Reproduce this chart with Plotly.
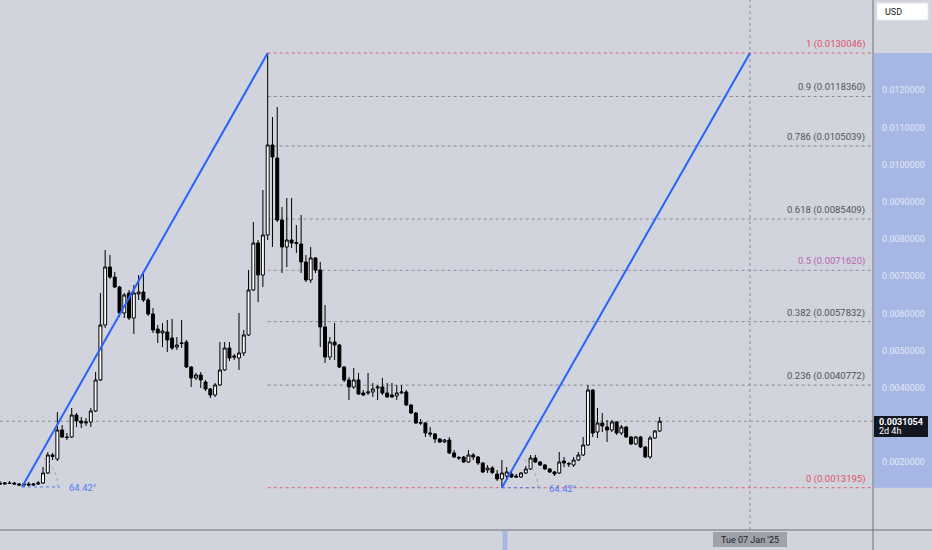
import numpy as np
import plotly.graph_objects as go

# ---------------- data (prices in USD) ----------------
candle_index = list(range(139))

opens = [0.001446, 0.001419, 0.001446, 0.001446, 0.001419, 0.001392, 0.001419, 0.001392, 0.001419,
         0.001446, 0.001715, 0.002199, 0.002091, 0.002871, 0.002683, 0.002683, 0.003274, 0.003113, 0.003059,
         0.003086, 0.003382, 0.004215, 0.005693, 0.007252, 0.006983, 0.006714, 0.006016, 0.006553, 0.005881,
         0.006527, 0.006580, 0.006365, 0.005989, 0.005586, 0.005478, 0.005505, 0.005344, 0.005102, 0.005196,
         0.005236, 0.004564, 0.004269, 0.004349, 0.004161, 0.003973, 0.003812, 0.004081, 0.004484, 0.005075,
         0.004860, 0.004806, 0.004941, 0.005425, 0.006634, 0.007897, 0.007037, 0.008112, 0.010532, 0.010182,
         0.008516, 0.007790, 0.007978, 0.007911, 0.007870, 0.007387, 0.006903, 0.007494, 0.007172, 0.005640,
         0.004833, 0.005236, 0.005156, 0.004564, 0.004215, 0.004027, 0.004215, 0.003866, 0.003866, 0.003892,
         0.004000, 0.004027, 0.003866, 0.003812, 0.003785, 0.003866, 0.003892, 0.003543, 0.003328, 0.003072,
         0.003059, 0.002790, 0.002763, 0.002629, 0.002548, 0.002602, 0.002253, 0.002131, 0.002145, 0.002011,
         0.002199, 0.002145, 0.001984, 0.001796, 0.001850, 0.001688, 0.001554, 0.001634, 0.001688, 0.001634,
         0.001608, 0.001715, 0.001823, 0.002118, 0.002011, 0.001930, 0.001823, 0.001742, 0.001715, 0.002038,
         0.001971, 0.001930, 0.002064, 0.002199, 0.002468, 0.003946, 0.002817, 0.003059, 0.002951, 0.002871,
         0.003086, 0.002790, 0.002951, 0.002683, 0.002495, 0.002683, 0.002414, 0.002145, 0.002656, 0.002844]

highs = [0.001500, 0.001473, 0.001500, 0.001473, 0.001446, 0.001446, 0.001473, 0.001446, 0.001500,
         0.001876, 0.002279, 0.002253, 0.003355, 0.003005, 0.002790, 0.003462, 0.003328, 0.003220, 0.003193,
         0.003462, 0.004430, 0.006553, 0.007709, 0.007575, 0.007118, 0.006741, 0.006553, 0.006634, 0.006768,
         0.007037, 0.007145, 0.006419, 0.006150, 0.005693, 0.005747, 0.005828, 0.005855, 0.005371, 0.005828,
         0.005290, 0.004591, 0.004403, 0.004430, 0.004215, 0.004000, 0.004134, 0.005236, 0.005236, 0.005236,
         0.004914, 0.006016, 0.005559, 0.007172, 0.008462, 0.007978, 0.009322, 0.0130046, 0.011284, 0.011553,
         0.008865, 0.009107, 0.009107, 0.008381, 0.008650, 0.007575, 0.007790, 0.007521, 0.007387, 0.006231,
         0.005371, 0.005747, 0.005183, 0.004591, 0.004296, 0.004537, 0.004403, 0.003946, 0.004403, 0.004134,
         0.004081, 0.004269, 0.004134, 0.004134, 0.004081, 0.004081, 0.003946, 0.003570, 0.003355, 0.003167,
         0.003086, 0.002951, 0.002790, 0.002656, 0.002629, 0.002683, 0.002333, 0.002172, 0.002172, 0.002333,
         0.002253, 0.002172, 0.002011, 0.001930, 0.001903, 0.001796, 0.002064, 0.001876, 0.001742, 0.001688,
         0.001742, 0.001903, 0.002199, 0.002199, 0.002038, 0.001957, 0.001850, 0.001769, 0.002279, 0.002145,
         0.002011, 0.002145, 0.002279, 0.002683, 0.004081, 0.003973, 0.003462, 0.003328, 0.003140, 0.003140,
         0.003113, 0.003005, 0.002978, 0.002710, 0.002710, 0.002710, 0.002441, 0.002710, 0.002871, 0.003220]

lows = [0.001392, 0.001392, 0.001419, 0.001392, 0.001365, 0.001340, 0.001365, 0.001365, 0.001392,
        0.001419, 0.001688, 0.002064, 0.002038, 0.002656, 0.002602, 0.002656, 0.002951, 0.002924, 0.002978,
        0.002951, 0.003355, 0.004188, 0.005613, 0.006930, 0.006688, 0.005908, 0.005881, 0.005828, 0.005451,
        0.006365, 0.006311, 0.005935, 0.005478, 0.005209, 0.005102, 0.004968, 0.005021, 0.005021, 0.005075,
        0.004537, 0.004027, 0.004215, 0.004000, 0.003919, 0.003731, 0.003758, 0.004054, 0.004457, 0.004725,
        0.004752, 0.004484, 0.004860, 0.005398, 0.006607, 0.006311, 0.006714, 0.007978, 0.007790, 0.008462,
        0.007091, 0.007252, 0.007763, 0.007629, 0.007091, 0.006849, 0.006822, 0.007091, 0.005102, 0.004672,
        0.004752, 0.004752, 0.004537, 0.004161, 0.003677, 0.003973, 0.003812, 0.003785, 0.003812, 0.003758,
        0.003677, 0.003812, 0.003731, 0.003744, 0.003677, 0.003839, 0.003516, 0.003301, 0.003032, 0.003005,
        0.002683, 0.002683, 0.002522, 0.002522, 0.002522, 0.002226, 0.002118, 0.002064, 0.001984, 0.001984,
        0.002064, 0.001930, 0.001715, 0.001715, 0.001688, 0.001500, 0.0013195, 0.001527, 0.001581, 0.001581,
        0.001581, 0.001688, 0.001796, 0.001984, 0.001903, 0.001796, 0.001715, 0.001634, 0.001688, 0.001876,
        0.001876, 0.001876, 0.002038, 0.002172, 0.002441, 0.002683, 0.002656, 0.002817, 0.002548, 0.002817,
        0.002737, 0.002737, 0.002656, 0.002468, 0.002468, 0.002387, 0.002118, 0.002091, 0.002629, 0.002817]

closes = [0.001419, 0.001446, 0.001433, 0.001419, 0.001392, 0.001419, 0.001392, 0.001419, 0.001446,
          0.001715, 0.002199, 0.002158, 0.002871, 0.002683, 0.002669, 0.003274, 0.003113, 0.003059, 0.003086,
          0.003382, 0.004215, 0.005693, 0.007252, 0.006983, 0.006714, 0.006016, 0.006500, 0.005881, 0.006553,
          0.006580, 0.006365, 0.005989, 0.005559, 0.005478, 0.005532, 0.005290, 0.005075, 0.005156, 0.005209,
          0.004564, 0.004269, 0.004349, 0.004215, 0.003973, 0.003812, 0.004081, 0.004484, 0.005075, 0.004806,
          0.004833, 0.004941, 0.005425, 0.006634, 0.007897, 0.007037, 0.008112, 0.010532, 0.010209, 0.008516,
          0.007790, 0.007978, 0.007897, 0.007884, 0.007387, 0.006903, 0.007494, 0.007172, 0.005640, 0.004833,
          0.005236, 0.005156, 0.004564, 0.004215, 0.004027, 0.004215, 0.003839, 0.003812, 0.003892, 0.003973,
          0.004027, 0.003866, 0.003758, 0.003758, 0.003866, 0.003892, 0.003543, 0.003328, 0.003059, 0.003059,
          0.002790, 0.002763, 0.002629, 0.002548, 0.002602, 0.002253, 0.002145, 0.002118, 0.002011, 0.002199,
          0.002145, 0.001984, 0.001742, 0.001850, 0.001729, 0.001554, 0.001715, 0.001742, 0.001608, 0.001608,
          0.001715, 0.001823, 0.002118, 0.002011, 0.001930, 0.001823, 0.001742, 0.001688, 0.002011, 0.001984,
          0.001957, 0.002064, 0.002199, 0.002468, 0.003946, 0.002790, 0.003059, 0.002978, 0.002871, 0.003086,
          0.002790, 0.002951, 0.002683, 0.002495, 0.002683, 0.002414, 0.002145, 0.002656, 0.002844, 0.0031054]

fib_ratios = ["1", "0.9", "0.786", "0.618", "0.5", "0.382", "0.236", "0"]
fib_prices = [0.0130046, 0.0118360, 0.0105039, 0.0085409, 0.0071620, 0.0057832, 0.0040772, 0.0013195]

axis_tick_values = [0.0120000, 0.0110000, 0.0100000, 0.0090000, 0.0080000, 0.0070000,
                    0.0060000, 0.0050000, 0.0040000, 0.0020000]

# trend lines (drawing tool): start/end (candle index, price)
trend1 = [(4.6, 0.001340), (56.0, 0.0130046)]
trend2 = [(105.0, 0.0013195), (156.9, 0.0130046)]
angle_text = "64.42°"
last_price = 0.0031054
last_price_text = "0.0031054"
countdown_text = "2d 4h"
crosshair_index = 156.9
crosshair_label = "Tue 07 Jan '25"

# ---------------- geometry ----------------
W, H = 932, 550
PW, PH = 873, 530            # plot area in pixels
PX_PER_BAR = 4.78
Y_TOP, Y_BOT = 0.0144292, 0.0001828
X_MAX = PW / PX_PER_BAR

def pxx(px):  # pixel x -> paper
    return px / PW

def pxy(py):  # pixel y -> paper
    return 1 - py / PH

def val_to_py(v):
    return (Y_TOP - v) / (Y_TOP - Y_BOT) * PH

def bar_to_px(i):
    return i * PX_PER_BAR

FONT = "Roboto, 'Open Sans', sans-serif"
BG = "#d1d4dc"
BLUE = "#2962ff"

fig = go.Figure()
fig.add_trace(go.Candlestick(
    x=candle_index, open=opens, high=highs, low=lows, close=closes,
    increasing=dict(line=dict(color="#000000", width=1), fillcolor="#ffffff"),
    decreasing=dict(line=dict(color="#000000", width=1), fillcolor="#000000"),
    whiskerwidth=0, hoverinfo="skip", showlegend=False,
))

shapes = []
annotations = []

# fib levels
for r, p in zip(fib_ratios, fib_prices):
    if r in ("1", "0"):
        lc, tc = "#e2606f", "#e0506a"
    elif r == "0.5":
        lc, tc = "#9a8aa6", "#b764b4"
    else:
        lc, tc = "#878a94", "#50535e"
    shapes.append(dict(type="line", xref="x", yref="y", x0=56, x1=X_MAX, y0=p, y1=p,
                       line=dict(color=lc, width=1, dash="dot"), layer="below"))
    annotations.append(dict(xref="paper", yref="y", x=pxx(867), y=p, xanchor="right",
                            yanchor="bottom", yshift=1, showarrow=False,
                            text=f"{r} ({p:.7f})", font=dict(family=FONT, size=9.5, color=tc)))

# crosshair / price line
shapes.append(dict(type="line", xref="x", yref="paper", x0=crosshair_index, x1=crosshair_index,
                   y0=0, y1=1, line=dict(color="#8c8f98", width=1, dash="dot"), layer="below"))
shapes.append(dict(type="line", xref="paper", yref="y", x0=0, x1=1, y0=last_price, y1=last_price,
                   line=dict(color="#8c8f98", width=1, dash="dot"), layer="below"))

# trend lines
for (a, b) in (trend1, trend2):
    shapes.append(dict(type="line", xref="x", yref="y", x0=a[0], y0=a[1], x1=b[0], y1=b[1],
                       line=dict(color=BLUE, width=2), layer="above"))
    # angle decoration
    ox, oy = bar_to_px(a[0]), val_to_py(a[1])
    shapes.append(dict(type="line", xref="paper", yref="paper", x0=pxx(ox), x1=pxx(ox + 38),
                       y0=pxy(oy), y1=pxy(oy), line=dict(color="#4d7cf2", width=1, dash="dot")))
    ang = np.radians(np.linspace(0, 64.42, 20))
    pts = [(pxx(ox + 36 * np.cos(t)), pxy(oy - 36 * np.sin(t))) for t in ang]
    path = "M " + " L ".join(f"{x:.5f},{y:.5f}" for x, y in pts)
    shapes.append(dict(type="path", xref="paper", yref="paper", path=path,
                       line=dict(color="#9a9da6", width=1, dash="dot")))
    annotations.append(dict(xref="paper", yref="paper", x=pxx(ox + 45), y=pxy(oy + 1),
                            xanchor="left", yanchor="middle", showarrow=False, text=angle_text,
                            font=dict(family=FONT, size=9.5, color="#4d7cf2")))

# right price axis highlight band
shapes.append(dict(type="rect", xref="paper", yref="paper", x0=pxx(874), x1=pxx(W),
                   y0=pxy(val_to_py(fib_prices[-1])), y1=pxy(val_to_py(fib_prices[0])),
                   fillcolor="#a6b7e5", line=dict(width=0), layer="below"))
for v in axis_tick_values:
    annotations.append(dict(xref="paper", yref="y", x=pxx(880), y=v, xanchor="left",
                            yanchor="middle", showarrow=False, text=f"{v:.7f}",
                            font=dict(family=FONT, size=9, color="#e3e8f6")))

# separators
shapes.append(dict(type="line", xref="paper", yref="paper", x0=1, x1=1, y0=pxy(H), y1=1,
                   line=dict(color="#6c6f79", width=1)))
shapes.append(dict(type="line", xref="paper", yref="paper", x0=0, x1=pxx(W), y0=0, y1=0,
                   line=dict(color="#6c6f79", width=1)))

# small selection marker on time axis
shapes.append(dict(type="rect", xref="paper", yref="paper", x0=pxx(502.5), x1=pxx(507.5),
                   y0=pxy(H), y1=pxy(531), fillcolor="#a6b7e5", line=dict(width=0)))

# crosshair time label
shapes.append(dict(type="rect", xref="paper", yref="paper", x0=pxx(713), x1=pxx(787),
                   y0=pxy(547), y1=pxy(532), fillcolor="#9fa2aa", line=dict(width=0)))
annotations.append(dict(xref="paper", yref="paper", x=pxx(750), y=pxy(539.5), xanchor="center",
                        yanchor="middle", showarrow=False, text=crosshair_label,
                        font=dict(family=FONT, size=9, color="#1e222d")))

# last price box
shapes.append(dict(type="rect", xref="paper", yref="paper", x0=pxx(874), x1=pxx(928),
                   y0=pxy(437), y1=pxy(416), fillcolor="#131722", line=dict(width=0)))
annotations.append(dict(xref="paper", yref="paper", x=pxx(877), y=pxy(422), xanchor="left",
                        yanchor="middle", showarrow=False, text=f"<b>{last_price_text}</b>",
                        font=dict(family=FONT, size=9, color="#ffffff")))
annotations.append(dict(xref="paper", yref="paper", x=pxx(877), y=pxy(431), xanchor="left",
                        yanchor="middle", showarrow=False, text=countdown_text,
                        font=dict(family=FONT, size=9, color="#ffffff")))

# USD button
shapes.append(dict(type="rect", xref="paper", yref="paper", x0=pxx(877), x1=pxx(928),
                   y0=pxy(20), y1=pxy(3), fillcolor="#ffffff", line=dict(color="#e6e8ee", width=1)))
annotations.append(dict(xref="paper", yref="paper", x=pxx(883), y=pxy(11.5), xanchor="left",
                        yanchor="middle", showarrow=False, text="USD",
                        font=dict(family=FONT, size=9, color="#131722")))

fig.update_layout(
    width=W, height=H,
    margin=dict(l=0, r=W - PW, t=0, b=H - PH),
    paper_bgcolor=BG, plot_bgcolor=BG,
    shapes=shapes, annotations=annotations,
    showlegend=False, boxgap=0.12,
    xaxis=dict(range=[0, X_MAX], showgrid=False, zeroline=False, showticklabels=False,
               showline=False, rangeslider=dict(visible=False), fixedrange=True),
    yaxis=dict(range=[Y_BOT, Y_TOP], showgrid=False, zeroline=False, showticklabels=False,
               showline=False, fixedrange=True),
)

fig.write_html("out.html", config={"displayModeBar": False},
               post_script="document.body.style.margin='0';document.body.style.overflow='hidden';")
